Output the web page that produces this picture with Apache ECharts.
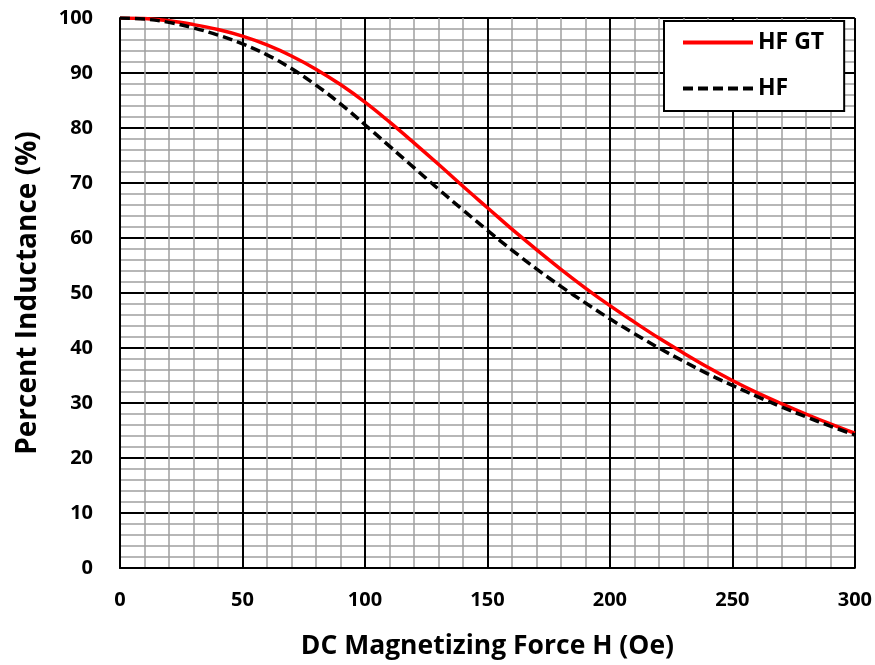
<!DOCTYPE html>
<html>
<head>
<meta charset="utf-8">
<script src="https://cdn.jsdelivr.net/npm/echarts@6/dist/echarts.min.js"></script>
<style>
  html, body { margin: 0; padding: 0; background: #fff; }
  #chart { width: 875px; height: 665px; }
</style>
</head>
<body>
<div id="chart"></div>
<script>
// DC field (Oe)
var hValues = [0, 10, 20, 30, 40, 50, 60, 70, 80, 90, 100, 110, 120, 130, 140, 150,
               160, 170, 180, 190, 200, 210, 220, 230, 240, 250, 260, 270, 280, 290, 300];
// percent inductance
var hfGt = [100, 99.9, 99.5, 98.8, 97.9, 96.7, 95.1, 93.1, 90.7, 87.9, 84.7, 81.1, 77.3, 73.4, 69.4, 65.5,
            61.6, 57.9, 54.3, 50.9, 47.7, 44.7, 41.8, 39.1, 36.5, 34.1, 31.9, 29.9, 28.0, 26.2, 24.5];
var hf = [100, 99.8, 99.2, 98.2, 96.9, 95.3, 93.3, 90.8, 87.8, 84.4, 80.6, 76.7, 72.8, 68.9, 65.1, 61.4,
          57.8, 54.4, 51.2, 48.2, 45.3, 42.6, 40.0, 37.6, 35.3, 33.2, 31.2, 29.3, 27.5, 25.8, 24.2];

var FONT = '"Open Sans", "Noto Sans", sans-serif';

function pairs(xs, ys) {
  var out = [];
  for (var i = 0; i < xs.length; i++) out.push([xs[i], ys[i]]);
  return out;
}

var myChart = echarts.init(document.getElementById('chart'));

var option = {
  animation: false,
  backgroundColor: '#fff',
  grid: { left: 120, right: 20, top: 18, bottom: 93 },
  legend: {
    orient: 'vertical',
    left: 664,
    top: 21,
    padding: [10, 20, 11, 17],
    itemWidth: 70,
    itemHeight: 16,
    itemGap: 23,
    itemStyle: { opacity: 0 },
    lineStyle: { width: 4 },
    backgroundColor: '#fff',
    borderColor: '#000',
    borderWidth: 2,
    textStyle: { fontFamily: FONT, fontWeight: 'bold', fontSize: 23, color: '#000' },
    data: ['HF GT', 'HF']
  },
  xAxis: {
    type: 'value',
    min: 0, max: 300, interval: 50,
    name: 'DC Magnetizing Force H (Oe)',
    nameLocation: 'middle',
    nameGap: 65,
    nameTextStyle: { fontFamily: FONT, fontWeight: 'bold', fontSize: 26.5, color: '#000' },
    axisLine: { show: true, lineStyle: { color: '#000', width: 2 } },
    axisTick: { show: false },
    axisLabel: { margin: 22, fontFamily: FONT, fontWeight: 'bold', fontSize: 20, color: '#000' },
    splitLine: { show: true, lineStyle: { color: '#000', width: 2 } },
    minorTick: { show: false, splitNumber: 5 },
    minorSplitLine: { show: true, lineStyle: { color: '#a0a0a0', width: 1.5 } }
  },
  yAxis: {
    type: 'value',
    min: 0, max: 100, interval: 10,
    name: 'Percent Inductance (%)',
    nameLocation: 'middle',
    nameGap: 78,
    nameTextStyle: { fontFamily: FONT, fontWeight: 'bold', fontSize: 28, color: '#000' },
    axisLine: { show: true, lineStyle: { color: '#000', width: 2 } },
    axisTick: { show: false },
    axisLabel: { margin: 27, fontFamily: FONT, fontWeight: 'bold', fontSize: 20, color: '#000' },
    splitLine: { show: true, lineStyle: { color: '#000', width: 2 } },
    minorTick: { show: false, splitNumber: 5 },
    minorSplitLine: { show: true, lineStyle: { color: '#a0a0a0', width: 1.5 } }
  },
  series: [
    {
      name: 'HF GT',
      type: 'line',
      smooth: 0.4,
      symbol: 'none',
      color: '#ff0000',
      lineStyle: { color: '#ff0000', width: 3.5 },
      data: pairs(hValues, hfGt),
      z: 3
    },
    {
      name: 'HF',
      type: 'line',
      smooth: 0.4,
      symbol: 'none',
      color: '#000',
      lineStyle: { color: '#000', width: 3.5, type: [10, 5] },
      data: pairs(hValues, hf),
      z: 4
    }
  ]
};

myChart.setOption(option);
</script>
</body>
</html>
